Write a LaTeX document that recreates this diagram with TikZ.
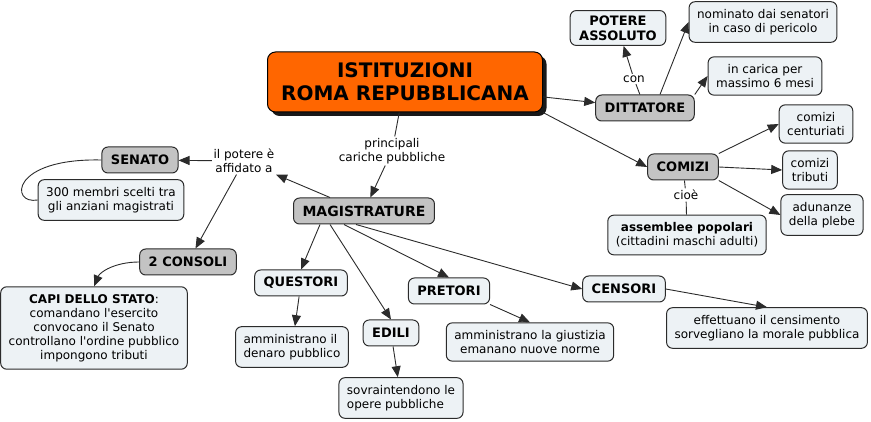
\documentclass[tikz,border=0pt]{standalone}
\usepackage{fontspec}
\setmainfont{DejaVu Sans}[Ligatures=TeXOff]
\usetikzlibrary{arrows.meta,shadows}
\definecolor{conceptfill}{HTML}{EDF2F5}
\definecolor{keyfill}{HTML}{C3C3C3}
\definecolor{titlefill}{HTML}{FF6600}
\definecolor{edgecol}{HTML}{2B2B2B}

\begin{document}
\begin{tikzpicture}[x=1pt, y=-1pt,
  concept/.style={draw=edgecol, line width=1pt, fill=conceptfill, rounded corners=6pt, align=center,
    inner xsep=8pt, inner ysep=7.5pt, font=\fontsize{12}{14}\selectfont},
  keyword/.style={concept, inner xsep=9pt, inner ysep=5pt, minimum height=26pt,
    font=\bfseries\fontsize{13}{15}\selectfont},
  keybox/.style={keyword, fill=keyfill},
  phrase/.style={fill=white, align=center, inner sep=1.5pt, font=\fontsize{12}{14}\selectfont},
  link/.style={draw=edgecol, line width=0.9pt, -{Triangle[length=11pt, width=9pt]}},
  plain/.style={draw=edgecol, line width=0.9pt}]
\useasboundingbox (0,0) rectangle (871,422);
\node[draw=black, fill=titlefill, rounded corners=8pt, line width=1pt,
  drop shadow={shadow xshift=4pt, shadow yshift=-4pt, fill=black, opacity=0.9},
  minimum width=275pt, minimum height=60pt, align=center,
  font=\bfseries\fontsize{20}{23}\selectfont] (title) at (405,82) {ISTITUZIONI\\ROMA REPUBBLICANA};
\node[keybox] (ditt) at (645,108) {DITTATORE};
\node[keyword] (potere) at (618,28) {POTERE\\ASSOLUTO};
\node[concept] (nomin) at (763,22) {nominato dai senatori\\in caso di pericolo};
\node[concept] (carica) at (765,76) {in carica per\\massimo 6 mesi};
\node[phrase] (con) at (634,79) {con};
\node[keybox] (comizi) at (683,167) {COMIZI};
\node[concept] (centur) at (816,124) {comizi\\centuriati};
\node[concept] (tributi) at (810,170) {comizi\\tributi};
\node[concept] (plebe) at (822,215) {adunanze\\della plebe};
\node[phrase] (cioe) at (686,195) {cioè};
\node[concept] (assemb) at (687,235) {\textbf{assemblee popolari}\\(cittadini maschi adulti)};
\node[keybox] (senato) at (140,160) {SENATO};
\node[concept] (membri) at (111,200) {300 membri scelti tra\\gli anziani magistrati};
\node[phrase] (affid) at (244,161) {il potere è\\affidato a};
\node[phrase] (cariche) at (392,151) {principali\\cariche pubbliche};
\node[keybox, font=\bfseries\fontsize{14}{16}\selectfont] (magis) at (364,211) {MAGISTRATURE};
\node[keybox] (consoli) at (188,262) {2 CONSOLI};
\node[concept] (capi) at (94,328) {\textbf{CAPI DELLO STATO}:\\comandano l'esercito\\convocano il Senato\\controllano l'ordine pubblico\\impongono tributi};
\node[keyword] (quest) at (301,283) {QUESTORI};
\node[concept, align=left] (denaro) at (292,347) {amministrano il\\denaro pubblico};
\node[keyword] (edili) at (391,333) {EDILI};
\node[concept, align=left] (opere) at (401,398) {sovraintendono le\\opere pubbliche};
\node[keyword] (pretori) at (449,291) {PRETORI};
\node[concept] (giust) at (530,342) {amministrano la giustizia\\emanano nuove norme};
\node[keyword] (censori) at (624,289) {CENSORI};
\node[concept] (censim) at (767,328) {effettuano il censimento\\sorvegliano la morale pubblica};
\draw[plain] (title) -- (cariche);
\draw[link] (cariche) -- (magis);
\draw[link] (title) -- (ditt);
\draw[link] (title.south east) -- (comizi.west);
\draw[plain] (ditt) -- (con);
\draw[link] (con) -- (potere);
\draw[link] ([xshift=15pt]ditt.north) -- (nomin.west);
\draw[link] (ditt.north east) -- (carica.west);
\draw[link] (comizi.north east) -- (centur.west);
\draw[link] (comizi.east) -- (tributi.west);
\draw[link] (comizi.south east) -- (plebe.west);
\draw[plain] (comizi) -- (cioe);
\draw[plain] (cioe) -- (assemb);
\draw[link] ([xshift=-34pt]magis.north) -- (affid);
\draw[link] (affid) -- (senato);
\draw[link] (affid) -- (consoli);
\draw[plain] (senato.west) .. controls (10,158) and (10,205) .. (membri.west);
\draw[link] (consoli.west) .. controls (115,262) and (100,272) .. (capi.north);
\draw[link] ([xshift=-44pt]magis.south) -- (quest.north);
\draw[link] ([xshift=-34pt]magis.south) -- (edili.north);
\draw[link] ([xshift=-20pt]magis.south) -- (pretori.north);
\draw[link] ([xshift=-8pt]magis.south) -- (censori.west);
\draw[link] (quest) -- (denaro);
\draw[link] (edili) -- (opere);
\draw[link] (pretori.south east) -- (giust.north);
\draw[link] (censori.east) -- (censim.north);
\end{tikzpicture}
\end{document}
